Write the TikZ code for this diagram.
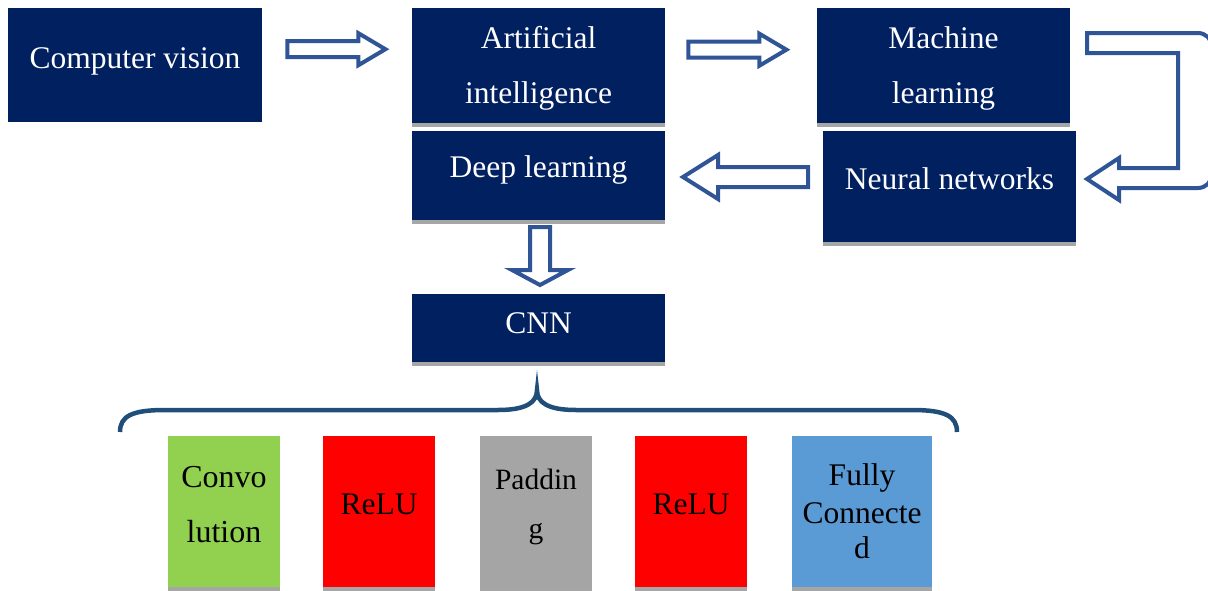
\documentclass[tikz,border=0pt]{standalone}
\usepackage{fontspec}
\setmainfont{Liberation Serif}
\usetikzlibrary{calc}
\definecolor{navy}{RGB}{0,32,96}
\definecolor{barg}{RGB}{166,166,166}
\definecolor{arrowblue}{RGB}{47,85,151}
\definecolor{bracecol}{RGB}{31,78,121}
\definecolor{convgreen}{RGB}{146,208,80}
\definecolor{padgrey}{RGB}{165,165,165}
\definecolor{fcblue}{RGB}{91,155,213}
\newcommand\shadowbar[1]{\fill[barg] (#1.south west) rectangle ([yshift=-4pt]#1.south east);}
\begin{document}
\begin{tikzpicture}[x=1pt,y=-1pt,
  navybox/.style={fill=navy, draw=none, inner sep=0pt, anchor=north west, minimum width=254pt},
  layerbox/.style={draw=none, inner sep=0pt, anchor=north west, minimum width=112pt, minimum height=151pt},
  wtext/.style={text=white, inner sep=0pt, anchor=base, font=\fontsize{31.5}{38}\selectfont},
  btext/.style={text=black, inner sep=0pt, anchor=base, font=\fontsize{31.5}{38}\selectfont},
  blockarrow/.style={draw=arrowblue, fill=white, line width=4pt, line join=miter},
  bracestyle/.style={draw=bracecol, line width=4.5pt}]
\path[use as bounding box] (0,0) rectangle (1208,590);
\clip (0,0) rectangle (1208,590);

% top boxes
\node[navybox, minimum width=254pt, minimum height=114pt] (cv) at (8,8) {};
\node[navybox, minimum width=253pt, minimum height=115pt] (ai) at (412,8) {};
\node[navybox, minimum width=253pt, minimum height=115pt] (ml) at (817,8) {};
\node[navybox, minimum width=253pt, minimum height=89pt] (dl) at (412,131) {};
\node[navybox, minimum width=253pt, minimum height=111pt] (nn) at (823,131) {};
\node[navybox, minimum width=253pt, minimum height=68pt] (cnn) at (412,294) {};
\shadowbar{ai}
\shadowbar{ml}
\shadowbar{dl}
\shadowbar{nn}
\shadowbar{cnn}

\node[wtext] (cvt) at (135,68) {Computer vision};
\node[wtext] (ait1) at (538.5,48) {Artificial};
\node[wtext] (ait2) at (538.5,103) {intelligence};
\node[wtext] (mlt1) at (943.5,48) {Machine};
\node[wtext] (mlt2) at (943.5,103) {learning};
\node[wtext] (dlt) at (538.5,177) {Deep learning};
\node[wtext] (nnt) at (949.5,189) {Neural networks};
\node[wtext] (cnnt) at (538.5,333) {CNN};

% block arrows
\draw[blockarrow] ($(cv.east)+(25,-24)$) coordinate (a1s) -- ++(71,0) -- ++(0,-8) -- ++(27,16) -- ++(-27,16) -- ++(0,-8) -- ++(-71,0) -- cycle;
\draw[blockarrow] ($(ai.east)+(23,-24)$) coordinate (a2s) -- ++(71,0) -- ++(0,-8) -- ++(27,16) -- ++(-27,16) -- ++(0,-8) -- ++(-71,0) -- cycle;
\draw[blockarrow] (1087,33) -- (1198,33) arc[start angle=-90, end angle=0, radius=14] -- (1212,174) arc[start angle=0, end angle=90, radius=14] -- (1119,188) -- (1119,200) -- (1087,179) -- (1119,158) -- (1119,168) -- (1178,168) -- (1178,53) -- (1087,53) -- cycle;
\draw[blockarrow] (808,167) -- (718,167) -- (718,155) -- (683,177) -- (718,199) -- (718,187) -- (808,187) -- cycle;
\draw[blockarrow] (530,227) -- (550,227) -- (550,270) -- (568,270) -- (540,285) -- (512,270) -- (530,270) -- cycle;

% brace
\draw[bracestyle] (120,432) .. controls (120,416) and (132,410) .. (165,410) -- (498,410) .. controls (527,410) and (537,402) .. (537,390) .. controls (537,402) and (547,410) .. (576,410) -- (912,410) .. controls (945,410) and (957,416) .. (957,432);

% layer boxes
\node[layerbox, fill=convgreen] (conv) at (168,436) {};
\node[layerbox, fill=red] (relu1) at (323,436) {};
\node[layerbox, fill=padgrey] (pad) at (480,436) {};
\node[layerbox, fill=red] (relu2) at (635,436) {};
\node[layerbox, fill=fcblue, minimum width=140pt] (fc) at (792,436) {};
\shadowbar{conv}
\shadowbar{relu1}
\shadowbar{pad}
\shadowbar{relu2}
\shadowbar{fc}

\node[btext, font=\fontsize{32}{38}\selectfont] (convt1) at (224,487) {Convo};
\node[btext, font=\fontsize{32}{38}\selectfont] (convt2) at (224,542) {lution};
\node[btext] (relut1) at (379,514) {ReLU};
\node[btext, font=\fontsize{29.5}{36}\selectfont] (padt1) at (536,489) {Paddin};
\node[btext, font=\fontsize{29.5}{36}\selectfont] (padt2) at (536,538) {g};
\node[btext] (relut2) at (691,514) {ReLU};
\node[btext] (fct1) at (862,485) {Fully};
\node[btext] (fct2) at (862,523) {Connecte};
\node[btext] (fct3) at (862,558) {d};
\end{tikzpicture}
\end{document}
